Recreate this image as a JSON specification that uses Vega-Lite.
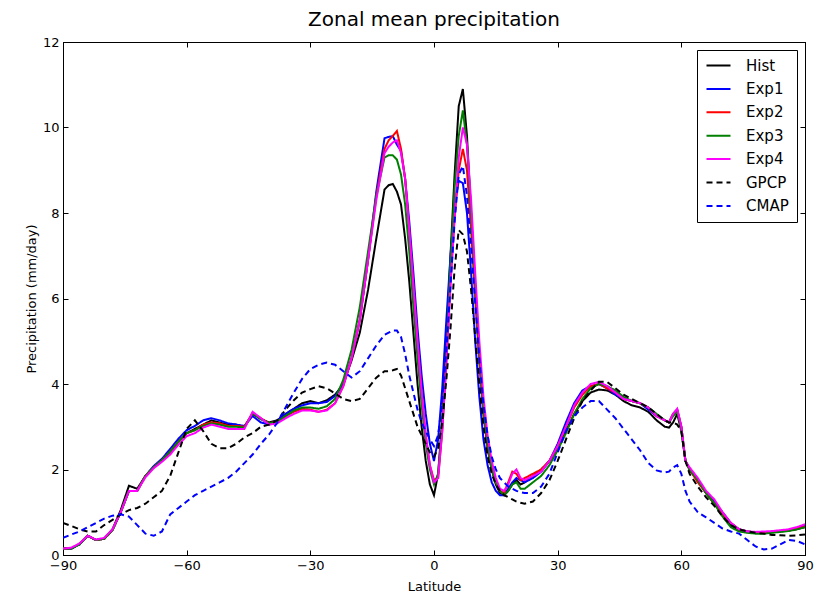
{
  "$schema": "https://vega.github.io/schema/vega-lite/v6.json",
  "width": 742,
  "height": 513,
  "autosize": {"type": "none"},
  "padding": {"left": 63, "top": 42, "right": 20, "bottom": 38},
  "title": {"text": "Zonal mean precipitation", "font": "DejaVu Sans", "fontSize": 20, "fontWeight": "normal", "offset": 6, "color": "black"},
  "config": {
    "view": {"stroke": "black", "strokeWidth": 1},
    "axis": {"grid": false, "labelFont": "DejaVu Sans", "titleFont": "DejaVu Sans", "labelFontSize": 13, "titleFontSize": 13, "titleFontWeight": "normal", "labelColor": "black", "titleColor": "black", "domainColor": "black", "tickColor": "black", "tickSize": -5, "labelPadding": 9, "labelFlush": false, "labelOverlap": false}
  },
  "data": {"values": [
    {"lat": -90, "Hist": 0.15, "Exp1": 0.15, "Exp2": 0.15, "Exp3": 0.15, "Exp4": 0.15, "GPCP": 0.75, "CMAP": 0.40},
    {"lat": -88, "Hist": 0.15, "Exp1": 0.15, "Exp2": 0.16, "Exp3": 0.15, "Exp4": 0.17, "GPCP": 0.68, "CMAP": 0.48},
    {"lat": -86, "Hist": 0.25, "Exp1": 0.25, "Exp2": 0.26, "Exp3": 0.25, "Exp4": 0.27, "GPCP": 0.60, "CMAP": 0.55},
    {"lat": -84, "Hist": 0.45, "Exp1": 0.45, "Exp2": 0.45, "Exp3": 0.45, "Exp4": 0.45, "GPCP": 0.55, "CMAP": 0.65},
    {"lat": -82, "Hist": 0.35, "Exp1": 0.35, "Exp2": 0.35, "Exp3": 0.35, "Exp4": 0.36, "GPCP": 0.55, "CMAP": 0.75},
    {"lat": -80, "Hist": 0.38, "Exp1": 0.38, "Exp2": 0.38, "Exp3": 0.38, "Exp4": 0.40, "GPCP": 0.70, "CMAP": 0.85},
    {"lat": -78, "Hist": 0.60, "Exp1": 0.58, "Exp2": 0.58, "Exp3": 0.58, "Exp4": 0.60, "GPCP": 0.82, "CMAP": 0.92},
    {"lat": -76, "Hist": 1.05, "Exp1": 1.00, "Exp2": 1.00, "Exp3": 1.00, "Exp4": 1.00, "GPCP": 0.95, "CMAP": 0.95},
    {"lat": -74, "Hist": 1.62, "Exp1": 1.50, "Exp2": 1.50, "Exp3": 1.50, "Exp4": 1.50, "GPCP": 1.05, "CMAP": 0.90},
    {"lat": -72, "Hist": 1.55, "Exp1": 1.50, "Exp2": 1.50, "Exp3": 1.50, "Exp4": 1.50, "GPCP": 1.10, "CMAP": 0.70},
    {"lat": -70, "Hist": 1.85, "Exp1": 1.85, "Exp2": 1.85, "Exp3": 1.85, "Exp4": 1.82, "GPCP": 1.20, "CMAP": 0.50},
    {"lat": -68, "Hist": 2.05, "Exp1": 2.08, "Exp2": 2.05, "Exp3": 2.05, "Exp4": 2.03, "GPCP": 1.35, "CMAP": 0.45},
    {"lat": -66, "Hist": 2.20, "Exp1": 2.25, "Exp2": 2.22, "Exp3": 2.22, "Exp4": 2.18, "GPCP": 1.50, "CMAP": 0.55},
    {"lat": -64, "Hist": 2.40, "Exp1": 2.48, "Exp2": 2.42, "Exp3": 2.42, "Exp4": 2.35, "GPCP": 1.85, "CMAP": 0.95},
    {"lat": -62, "Hist": 2.65, "Exp1": 2.72, "Exp2": 2.65, "Exp3": 2.65, "Exp4": 2.58, "GPCP": 2.40, "CMAP": 1.10},
    {"lat": -60, "Hist": 2.85, "Exp1": 2.92, "Exp2": 2.85, "Exp3": 2.85, "Exp4": 2.78, "GPCP": 2.95, "CMAP": 1.25},
    {"lat": -58, "Hist": 2.95, "Exp1": 3.02, "Exp2": 2.92, "Exp3": 2.92, "Exp4": 2.85, "GPCP": 3.15, "CMAP": 1.40},
    {"lat": -56, "Hist": 3.05, "Exp1": 3.15, "Exp2": 3.05, "Exp3": 3.02, "Exp4": 2.98, "GPCP": 2.90, "CMAP": 1.50},
    {"lat": -54, "Hist": 3.15, "Exp1": 3.20, "Exp2": 3.10, "Exp3": 3.08, "Exp4": 3.05, "GPCP": 2.60, "CMAP": 1.60},
    {"lat": -52, "Hist": 3.10, "Exp1": 3.15, "Exp2": 3.08, "Exp3": 3.05, "Exp4": 3.00, "GPCP": 2.50, "CMAP": 1.70},
    {"lat": -50, "Hist": 3.05, "Exp1": 3.08, "Exp2": 3.02, "Exp3": 3.00, "Exp4": 2.95, "GPCP": 2.50, "CMAP": 1.80},
    {"lat": -48, "Hist": 3.05, "Exp1": 3.05, "Exp2": 3.02, "Exp3": 3.00, "Exp4": 2.95, "GPCP": 2.60, "CMAP": 1.95},
    {"lat": -46, "Hist": 3.00, "Exp1": 3.02, "Exp2": 3.00, "Exp3": 2.98, "Exp4": 2.95, "GPCP": 2.75, "CMAP": 2.15},
    {"lat": -44, "Hist": 3.30, "Exp1": 3.25, "Exp2": 3.32, "Exp3": 3.32, "Exp4": 3.35, "GPCP": 2.85, "CMAP": 2.35},
    {"lat": -42, "Hist": 3.18, "Exp1": 3.10, "Exp2": 3.20, "Exp3": 3.18, "Exp4": 3.20, "GPCP": 3.00, "CMAP": 2.60},
    {"lat": -40, "Hist": 3.10, "Exp1": 3.05, "Exp2": 3.08, "Exp3": 3.08, "Exp4": 3.05, "GPCP": 3.05, "CMAP": 2.82},
    {"lat": -38, "Hist": 3.15, "Exp1": 3.15, "Exp2": 3.12, "Exp3": 3.12, "Exp4": 3.08, "GPCP": 3.15, "CMAP": 3.10},
    {"lat": -36, "Hist": 3.30, "Exp1": 3.30, "Exp2": 3.25, "Exp3": 3.25, "Exp4": 3.20, "GPCP": 3.40, "CMAP": 3.45},
    {"lat": -34, "Hist": 3.42, "Exp1": 3.42, "Exp2": 3.35, "Exp3": 3.38, "Exp4": 3.30, "GPCP": 3.62, "CMAP": 3.80},
    {"lat": -32, "Hist": 3.55, "Exp1": 3.50, "Exp2": 3.42, "Exp3": 3.45, "Exp4": 3.38, "GPCP": 3.80, "CMAP": 4.12},
    {"lat": -30, "Hist": 3.60, "Exp1": 3.55, "Exp2": 3.40, "Exp3": 3.45, "Exp4": 3.38, "GPCP": 3.88, "CMAP": 4.35},
    {"lat": -28, "Hist": 3.55, "Exp1": 3.55, "Exp2": 3.35, "Exp3": 3.42, "Exp4": 3.35, "GPCP": 3.95, "CMAP": 4.45},
    {"lat": -26, "Hist": 3.62, "Exp1": 3.58, "Exp2": 3.40, "Exp3": 3.48, "Exp4": 3.38, "GPCP": 3.90, "CMAP": 4.50},
    {"lat": -24, "Hist": 3.75, "Exp1": 3.72, "Exp2": 3.55, "Exp3": 3.65, "Exp4": 3.55, "GPCP": 3.78, "CMAP": 4.45},
    {"lat": -22, "Hist": 4.00, "Exp1": 4.00, "Exp2": 3.95, "Exp3": 4.10, "Exp4": 3.95, "GPCP": 3.65, "CMAP": 4.30},
    {"lat": -20, "Hist": 4.55, "Exp1": 4.60, "Exp2": 4.60, "Exp3": 4.80, "Exp4": 4.60, "GPCP": 3.60, "CMAP": 4.15},
    {"lat": -18, "Hist": 5.20, "Exp1": 5.50, "Exp2": 5.50, "Exp3": 5.80, "Exp4": 5.50, "GPCP": 3.65, "CMAP": 4.30},
    {"lat": -16, "Hist": 6.20, "Exp1": 6.90, "Exp2": 6.90, "Exp3": 7.10, "Exp4": 6.90, "GPCP": 3.90, "CMAP": 4.60},
    {"lat": -14, "Hist": 7.40, "Exp1": 8.50, "Exp2": 8.40, "Exp3": 8.40, "Exp4": 8.30, "GPCP": 4.15, "CMAP": 4.90},
    {"lat": -12, "Hist": 8.55, "Exp1": 9.75, "Exp2": 9.50, "Exp3": 9.30, "Exp4": 9.40, "GPCP": 4.30, "CMAP": 5.15},
    {"lat": -11, "Hist": 8.65, "Exp1": 9.78, "Exp2": 9.70, "Exp3": 9.35, "Exp4": 9.55, "GPCP": 4.30, "CMAP": 5.20},
    {"lat": -10, "Hist": 8.68, "Exp1": 9.80, "Exp2": 9.80, "Exp3": 9.35, "Exp4": 9.65, "GPCP": 4.32, "CMAP": 5.25},
    {"lat": -9, "Hist": 8.50, "Exp1": 9.60, "Exp2": 9.92, "Exp3": 9.25, "Exp4": 9.70, "GPCP": 4.35, "CMAP": 5.25},
    {"lat": -8, "Hist": 8.20, "Exp1": 9.45, "Exp2": 9.50, "Exp3": 8.90, "Exp4": 9.40, "GPCP": 4.20, "CMAP": 5.10},
    {"lat": -7, "Hist": 7.40, "Exp1": 8.80, "Exp2": 8.80, "Exp3": 8.20, "Exp4": 8.80, "GPCP": 3.90, "CMAP": 4.70},
    {"lat": -6, "Hist": 6.40, "Exp1": 7.80, "Exp2": 7.60, "Exp3": 7.10, "Exp4": 7.60, "GPCP": 3.60, "CMAP": 4.20},
    {"lat": -5, "Hist": 5.20, "Exp1": 6.60, "Exp2": 6.30, "Exp3": 5.80, "Exp4": 6.30, "GPCP": 3.30, "CMAP": 3.80},
    {"lat": -4, "Hist": 4.00, "Exp1": 5.30, "Exp2": 5.00, "Exp3": 4.60, "Exp4": 5.00, "GPCP": 3.00, "CMAP": 3.40},
    {"lat": -3, "Hist": 3.00, "Exp1": 4.20, "Exp2": 3.80, "Exp3": 3.50, "Exp4": 3.80, "GPCP": 2.80, "CMAP": 3.10},
    {"lat": -2, "Hist": 2.20, "Exp1": 3.30, "Exp2": 2.80, "Exp3": 2.60, "Exp4": 2.80, "GPCP": 2.60, "CMAP": 2.90},
    {"lat": -1, "Hist": 1.65, "Exp1": 2.60, "Exp2": 2.10, "Exp3": 2.00, "Exp4": 2.10, "GPCP": 2.40, "CMAP": 2.70},
    {"lat": 0, "Hist": 1.40, "Exp1": 2.20, "Exp2": 1.75, "Exp3": 1.65, "Exp4": 1.70, "GPCP": 2.30, "CMAP": 2.55},
    {"lat": 1, "Hist": 1.90, "Exp1": 2.70, "Exp2": 1.80, "Exp3": 1.90, "Exp4": 1.80, "GPCP": 2.50, "CMAP": 2.80},
    {"lat": 2, "Hist": 3.20, "Exp1": 3.90, "Exp2": 2.90, "Exp3": 3.00, "Exp4": 2.90, "GPCP": 3.10, "CMAP": 3.60},
    {"lat": 3, "Hist": 5.00, "Exp1": 5.50, "Exp2": 4.50, "Exp3": 4.70, "Exp4": 4.50, "GPCP": 4.10, "CMAP": 4.80},
    {"lat": 4, "Hist": 7.00, "Exp1": 7.00, "Exp2": 6.40, "Exp3": 6.80, "Exp4": 6.30, "GPCP": 5.30, "CMAP": 6.30},
    {"lat": 5, "Hist": 8.90, "Exp1": 8.20, "Exp2": 7.90, "Exp3": 8.60, "Exp4": 7.90, "GPCP": 6.70, "CMAP": 7.80},
    {"lat": 6, "Hist": 10.50, "Exp1": 8.75, "Exp2": 9.00, "Exp3": 9.80, "Exp4": 9.30, "GPCP": 7.60, "CMAP": 8.90},
    {"lat": 7, "Hist": 10.90, "Exp1": 8.70, "Exp2": 9.50, "Exp3": 10.40, "Exp4": 10.00, "GPCP": 7.50, "CMAP": 9.10},
    {"lat": 8, "Hist": 9.80, "Exp1": 8.00, "Exp2": 9.00, "Exp3": 9.60, "Exp4": 9.60, "GPCP": 7.10, "CMAP": 8.40},
    {"lat": 9, "Hist": 8.00, "Exp1": 6.60, "Exp2": 7.60, "Exp3": 8.00, "Exp4": 8.30, "GPCP": 6.20, "CMAP": 7.20},
    {"lat": 10, "Hist": 6.20, "Exp1": 5.00, "Exp2": 6.00, "Exp3": 6.30, "Exp4": 6.60, "GPCP": 5.10, "CMAP": 5.90},
    {"lat": 11, "Hist": 4.60, "Exp1": 3.70, "Exp2": 4.50, "Exp3": 4.70, "Exp4": 5.00, "GPCP": 4.00, "CMAP": 4.60},
    {"lat": 12, "Hist": 3.30, "Exp1": 2.70, "Exp2": 3.30, "Exp3": 3.40, "Exp4": 3.70, "GPCP": 3.00, "CMAP": 3.50},
    {"lat": 13, "Hist": 2.50, "Exp1": 2.10, "Exp2": 2.50, "Exp3": 2.60, "Exp4": 2.80, "GPCP": 2.30, "CMAP": 2.80},
    {"lat": 14, "Hist": 2.00, "Exp1": 1.70, "Exp2": 2.00, "Exp3": 2.00, "Exp4": 2.20, "GPCP": 1.90, "CMAP": 2.30},
    {"lat": 15, "Hist": 1.65, "Exp1": 1.50, "Exp2": 1.70, "Exp3": 1.70, "Exp4": 1.80, "GPCP": 1.65, "CMAP": 2.00},
    {"lat": 16, "Hist": 1.45, "Exp1": 1.40, "Exp2": 1.50, "Exp3": 1.50, "Exp4": 1.55, "GPCP": 1.50, "CMAP": 1.80},
    {"lat": 17, "Hist": 1.40, "Exp1": 1.40, "Exp2": 1.45, "Exp3": 1.40, "Exp4": 1.50, "GPCP": 1.40, "CMAP": 1.70},
    {"lat": 18, "Hist": 1.50, "Exp1": 1.55, "Exp2": 1.70, "Exp3": 1.50, "Exp4": 1.65, "GPCP": 1.35, "CMAP": 1.60},
    {"lat": 19, "Hist": 1.65, "Exp1": 1.70, "Exp2": 1.95, "Exp3": 1.65, "Exp4": 1.90, "GPCP": 1.30, "CMAP": 1.55},
    {"lat": 20, "Hist": 1.75, "Exp1": 1.80, "Exp2": 1.90, "Exp3": 1.70, "Exp4": 2.00, "GPCP": 1.25, "CMAP": 1.50},
    {"lat": 21, "Hist": 1.65, "Exp1": 1.75, "Exp2": 1.75, "Exp3": 1.55, "Exp4": 1.80, "GPCP": 1.22, "CMAP": 1.47},
    {"lat": 22, "Hist": 1.70, "Exp1": 1.70, "Exp2": 1.80, "Exp3": 1.55, "Exp4": 1.75, "GPCP": 1.20, "CMAP": 1.45},
    {"lat": 24, "Hist": 1.85, "Exp1": 1.80, "Exp2": 1.90, "Exp3": 1.70, "Exp4": 1.85, "GPCP": 1.25, "CMAP": 1.45},
    {"lat": 26, "Hist": 2.00, "Exp1": 1.95, "Exp2": 2.00, "Exp3": 1.85, "Exp4": 1.95, "GPCP": 1.45, "CMAP": 1.60},
    {"lat": 28, "Hist": 2.20, "Exp1": 2.20, "Exp2": 2.20, "Exp3": 2.10, "Exp4": 2.20, "GPCP": 1.75, "CMAP": 1.90},
    {"lat": 30, "Hist": 2.50, "Exp1": 2.60, "Exp2": 2.55, "Exp3": 2.45, "Exp4": 2.55, "GPCP": 2.20, "CMAP": 2.40},
    {"lat": 32, "Hist": 2.90, "Exp1": 3.10, "Exp2": 3.00, "Exp3": 2.85, "Exp4": 3.00, "GPCP": 2.70, "CMAP": 2.90},
    {"lat": 34, "Hist": 3.30, "Exp1": 3.55, "Exp2": 3.45, "Exp3": 3.30, "Exp4": 3.50, "GPCP": 3.20, "CMAP": 3.25},
    {"lat": 36, "Hist": 3.60, "Exp1": 3.85, "Exp2": 3.75, "Exp3": 3.65, "Exp4": 3.80, "GPCP": 3.60, "CMAP": 3.45},
    {"lat": 38, "Hist": 3.80, "Exp1": 3.95, "Exp2": 3.95, "Exp3": 3.90, "Exp4": 4.00, "GPCP": 3.85, "CMAP": 3.60},
    {"lat": 40, "Hist": 3.87, "Exp1": 4.00, "Exp2": 4.00, "Exp3": 4.00, "Exp4": 4.05, "GPCP": 4.05, "CMAP": 3.60},
    {"lat": 42, "Hist": 3.85, "Exp1": 3.90, "Exp2": 3.90, "Exp3": 3.95, "Exp4": 3.95, "GPCP": 4.05, "CMAP": 3.40},
    {"lat": 44, "Hist": 3.75, "Exp1": 3.75, "Exp2": 3.80, "Exp3": 3.85, "Exp4": 3.80, "GPCP": 3.90, "CMAP": 3.20},
    {"lat": 46, "Hist": 3.60, "Exp1": 3.65, "Exp2": 3.65, "Exp3": 3.70, "Exp4": 3.65, "GPCP": 3.75, "CMAP": 2.95},
    {"lat": 48, "Hist": 3.50, "Exp1": 3.60, "Exp2": 3.60, "Exp3": 3.60, "Exp4": 3.60, "GPCP": 3.65, "CMAP": 2.70},
    {"lat": 50, "Hist": 3.45, "Exp1": 3.55, "Exp2": 3.55, "Exp3": 3.55, "Exp4": 3.55, "GPCP": 3.55, "CMAP": 2.45},
    {"lat": 52, "Hist": 3.35, "Exp1": 3.40, "Exp2": 3.45, "Exp3": 3.45, "Exp4": 3.45, "GPCP": 3.45, "CMAP": 2.15},
    {"lat": 54, "Hist": 3.15, "Exp1": 3.25, "Exp2": 3.25, "Exp3": 3.30, "Exp4": 3.25, "GPCP": 3.30, "CMAP": 1.98},
    {"lat": 56, "Hist": 3.00, "Exp1": 3.15, "Exp2": 3.15, "Exp3": 3.15, "Exp4": 3.15, "GPCP": 3.15, "CMAP": 1.93},
    {"lat": 57, "Hist": 2.98, "Exp1": 3.10, "Exp2": 3.10, "Exp3": 3.10, "Exp4": 3.10, "GPCP": 3.10, "CMAP": 1.95},
    {"lat": 58, "Hist": 3.10, "Exp1": 3.30, "Exp2": 3.30, "Exp3": 3.25, "Exp4": 3.30, "GPCP": 3.10, "CMAP": 2.05},
    {"lat": 59, "Hist": 3.30, "Exp1": 3.40, "Exp2": 3.40, "Exp3": 3.35, "Exp4": 3.42, "GPCP": 3.05, "CMAP": 2.10},
    {"lat": 60, "Hist": 2.90, "Exp1": 3.00, "Exp2": 3.00, "Exp3": 2.95, "Exp4": 3.00, "GPCP": 2.90, "CMAP": 1.90},
    {"lat": 61, "Hist": 2.20, "Exp1": 2.20, "Exp2": 2.20, "Exp3": 2.20, "Exp4": 2.20, "GPCP": 2.20, "CMAP": 1.50},
    {"lat": 62, "Hist": 2.00, "Exp1": 2.00, "Exp2": 2.00, "Exp3": 2.00, "Exp4": 2.05, "GPCP": 1.90, "CMAP": 1.25},
    {"lat": 64, "Hist": 1.75, "Exp1": 1.75, "Exp2": 1.70, "Exp3": 1.75, "Exp4": 1.80, "GPCP": 1.60, "CMAP": 1.00},
    {"lat": 66, "Hist": 1.45, "Exp1": 1.45, "Exp2": 1.45, "Exp3": 1.45, "Exp4": 1.50, "GPCP": 1.35, "CMAP": 0.88},
    {"lat": 68, "Hist": 1.20, "Exp1": 1.25, "Exp2": 1.20, "Exp3": 1.20, "Exp4": 1.30, "GPCP": 1.15, "CMAP": 0.75},
    {"lat": 70, "Hist": 0.95, "Exp1": 1.00, "Exp2": 0.95, "Exp3": 0.90, "Exp4": 1.00, "GPCP": 0.90, "CMAP": 0.62},
    {"lat": 72, "Hist": 0.70, "Exp1": 0.75, "Exp2": 0.75, "Exp3": 0.65, "Exp4": 0.75, "GPCP": 0.70, "CMAP": 0.55},
    {"lat": 74, "Hist": 0.58, "Exp1": 0.60, "Exp2": 0.60, "Exp3": 0.55, "Exp4": 0.60, "GPCP": 0.60, "CMAP": 0.50},
    {"lat": 76, "Hist": 0.53, "Exp1": 0.55, "Exp2": 0.55, "Exp3": 0.52, "Exp4": 0.55, "GPCP": 0.55, "CMAP": 0.35},
    {"lat": 78, "Hist": 0.52, "Exp1": 0.53, "Exp2": 0.53, "Exp3": 0.50, "Exp4": 0.54, "GPCP": 0.52, "CMAP": 0.20},
    {"lat": 80, "Hist": 0.52, "Exp1": 0.53, "Exp2": 0.53, "Exp3": 0.50, "Exp4": 0.55, "GPCP": 0.50, "CMAP": 0.13},
    {"lat": 82, "Hist": 0.53, "Exp1": 0.54, "Exp2": 0.54, "Exp3": 0.52, "Exp4": 0.56, "GPCP": 0.47, "CMAP": 0.15},
    {"lat": 84, "Hist": 0.55, "Exp1": 0.56, "Exp2": 0.56, "Exp3": 0.54, "Exp4": 0.58, "GPCP": 0.46, "CMAP": 0.25},
    {"lat": 86, "Hist": 0.57, "Exp1": 0.58, "Exp2": 0.58, "Exp3": 0.56, "Exp4": 0.60, "GPCP": 0.45, "CMAP": 0.35},
    {"lat": 88, "Hist": 0.60, "Exp1": 0.62, "Exp2": 0.62, "Exp3": 0.60, "Exp4": 0.65, "GPCP": 0.46, "CMAP": 0.33},
    {"lat": 90, "Hist": 0.65, "Exp1": 0.68, "Exp2": 0.66, "Exp3": 0.65, "Exp4": 0.72, "GPCP": 0.48, "CMAP": 0.25}
  ]},
  "transform": [
    {"fold": ["Hist", "Exp1", "Exp2", "Exp3", "Exp4", "GPCP", "CMAP"], "as": ["series", "value"]}
  ],
  "layer": [
    {
      "mark": {"type": "line", "strokeWidth": 2, "clip": true},
      "encoding": {
        "x": {"field": "lat", "type": "quantitative", "scale": {"domain": [-90, 90], "nice": false}, "axis": {"title": "Latitude", "titlePadding": 8, "values": [-90, -60, -30, 0, 30, 60, 90], "orient": "bottom"}},
        "y": {"field": "value", "type": "quantitative", "scale": {"domain": [0, 12], "nice": false}, "axis": {"title": "Precipitation (mm/day)", "values": [0, 2, 4, 6, 8, 10, 12], "orient": "left"}},
        "color": {"field": "series", "type": "nominal", "scale": {"domain": ["Hist", "Exp1", "Exp2", "Exp3", "Exp4", "GPCP", "CMAP"], "range": ["#000000", "#0000ff", "#ff0000", "#008000", "#ff00ff", "#000000", "#0000ff"]},
          "legend": {"title": null, "orient": "top-right", "offset": 8, "strokeColor": "black", "fillColor": "white", "padding": 8, "cornerRadius": 0, "symbolType": "M-1.2,0H3.6", "symbolSize": 100, "symbolStrokeWidth": 2, "labelFont": "DejaVu Sans", "labelFontSize": 15, "labelColor": "black", "rowPadding": 7.4, "labelOffset": 26}},
        "strokeDash": {"field": "series", "type": "nominal", "scale": {"domain": ["Hist", "Exp1", "Exp2", "Exp3", "Exp4", "GPCP", "CMAP"], "range": [[1, 0], [1, 0], [1, 0], [1, 0], [1, 0], [6, 4], [6, 4]]}, "legend": {"title": null}},
        "order": {"field": "lat", "type": "quantitative"}
      }
    },
    {
      "mark": {"type": "line", "opacity": 0},
      "encoding": {
        "x": {"field": "lat", "type": "quantitative", "scale": {"domain": [-90, 90], "nice": false}, "axis": {"title": null, "labels": false, "values": [-90, -60, -30, 0, 30, 60, 90], "orient": "top"}},
        "y": {"field": "value", "type": "quantitative", "scale": {"domain": [0, 12], "nice": false}, "axis": {"title": null, "labels": false, "values": [0, 2, 4, 6, 8, 10, 12], "orient": "right"}}
      }
    }
  ],
  "resolve": {"axis": {"x": "independent", "y": "independent"}}
}
